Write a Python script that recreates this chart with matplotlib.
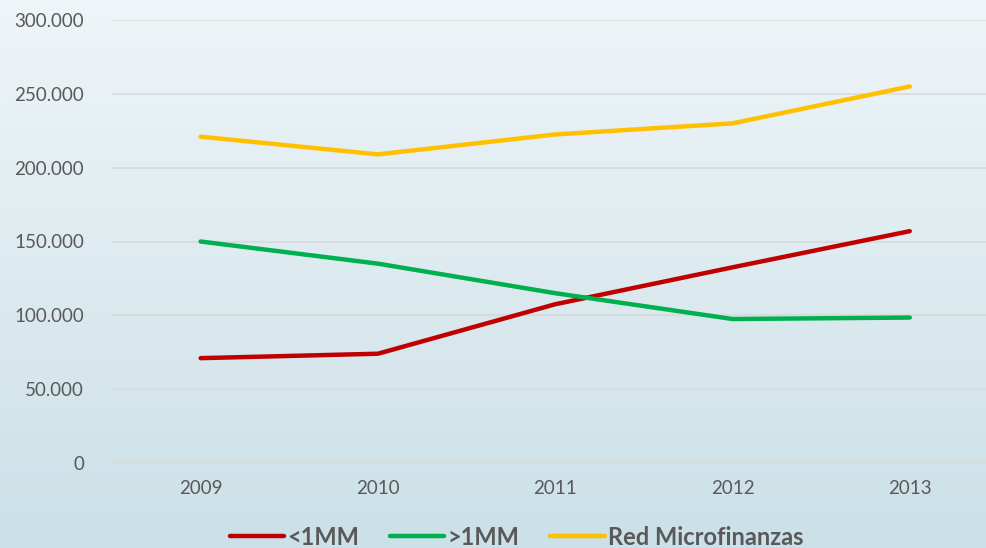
import matplotlib
matplotlib.use("Agg")
import matplotlib.pyplot as plt
import numpy as np
from matplotlib.ticker import FuncFormatter
from matplotlib.lines import Line2D

years = ["2009", "2010", "2011", "2012", "2013"]
menos_1mm = [71000, 74000, 107500, 132500, 157000]
mas_1mm = [150000, 135000, 115000, 97500, 98500]
red_micro = [221000, 209000, 222500, 230000, 255000]
series_names = ["<1MM", ">1MM", "Red Microfinanzas"]
colors = ["#C00000", "#00B050", "#FFC000"]

plt.rcParams['font.family'] = ['Lato', 'DejaVu Sans']

fig = plt.figure(figsize=(9.86, 5.48), dpi=100)
bg = fig.add_axes([0, 0, 1, 1], zorder=-10)
grad = np.linspace(0, 1, 256).reshape(-1, 1)
top = np.array([0xef, 0xf5, 0xf8]) / 255
bot = np.array([0xcb, 0xe0, 0xe7]) / 255
img = top + (bot - top) * grad[:, :, None]
bg.imshow(img, aspect='auto', extent=[0, 1, 0, 1], origin='upper')
bg.axis('off')

left = 112 / 986
right = 1.0
bottom = 1 - 463 / 548
topy = 1 - 20 / 548
ax = fig.add_axes([left, bottom, right - left, topy - bottom])
ax.patch.set_alpha(0)

x = np.arange(len(years))
for vals, c in zip([menos_1mm, mas_1mm, red_micro], colors):
    ax.plot(x, vals, color=c, lw=3.2, solid_capstyle='round', zorder=3)

ax.set_ylim(0, 300000)
ax.set_xlim(-0.5, 4.43)
ax.set_yticks(np.arange(0, 300001, 50000))
ax.yaxis.set_major_formatter(FuncFormatter(lambda v, p: f"{int(v):,}".replace(",", ".")))
ax.set_xticks(x)
ax.set_xticklabels(years)
ax.grid(axis='y', color='#d8d8d8', lw=1.1, zorder=0)
ax.set_axisbelow(True)
for s in ax.spines.values():
    s.set_visible(False)
ax.tick_params(axis='both', length=0, colors='#595959', labelsize=13.5)
ax.tick_params(axis='y', pad=20)
ax.tick_params(axis='x', pad=12)

handles = [Line2D([0], [0], color=c, lw=3.2, solid_capstyle='round') for c in colors]
fig.legend(handles, series_names, loc='lower center', bbox_to_anchor=(0.524, -0.04),
           ncol=3, frameon=False, handlelength=2.3, handletextpad=0.15, columnspacing=1.3,
           prop={'weight': 'bold', 'size': 17}, labelcolor='#595959')

fig.savefig("out.png", dpi=100)
